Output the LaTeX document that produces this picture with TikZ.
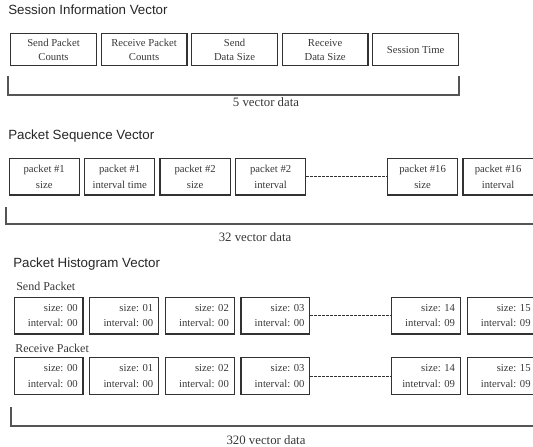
\documentclass[tikz,border=0pt]{standalone}
\usepackage{fontspec}
\setmainfont{Liberation Serif}
\newfontfamily\headfont{Liberation Sans}
\usepackage{xcolor}
\usepackage{tikz}
\usetikzlibrary{positioning}
\definecolor{inkgray}{RGB}{55,55,55}
\definecolor{framegray}{RGB}{50,50,50}
\definecolor{bracegray}{RGB}{85,85,85}

\begin{document}
\frenchspacing
\begin{tikzpicture}[
    x=0.75pt, y=-0.75pt,
    heading/.style={anchor=west, inner sep=0pt, text=black!85, font=\headfont\fontsize{10}{12}\selectfont},
    sublabel/.style={anchor=west, inner sep=0pt, text=inkgray, font=\fontsize{9}{11}\selectfont},
    cell/.style={rectangle, draw=framegray, line width=0.9pt, text=inkgray, inner sep=0pt, align=center},
    sesscell/.style={cell, minimum width=64.4pt, minimum height=23.9pt, font=\fontsize{8}{10.5}\selectfont},
    seqcell/.style={cell, minimum width=52.7pt, minimum height=27.6pt, font=\fontsize{8}{12}\selectfont},
    histcell/.style={cell, minimum height=27.6pt, inner xsep=4pt, text width=43.6pt, align=right, font=\fontsize{8}{11.6}\selectfont},
    brace/.style={draw=bracegray, line width=1pt},
    tally/.style={inner sep=0pt, text=inkgray, font=\fontsize{9.6}{11}\selectfont},
    dotline/.style={dash pattern=on 1.6pt off 1.4pt, line width=0.6pt, draw=black!80}
]
\useasboundingbox (0,0) rectangle (533,447);

% session information
\node[heading] (sesstitle) at (8,10) {Session Information Vector};

\node[sesscell, anchor=north west] (sendcnt) at (10,33) {Send Packet\\Counts};
\node[sesscell, right=2.6pt of sendcnt] (recvcnt) {Receive Packet\\Counts};
\node[sesscell, right=2.6pt of recvcnt] (sendsize) {Send\\Data Size};
\node[sesscell, right=2.6pt of sendsize] (recvsize) {Receive\\Data Size};
\node[sesscell, right=2.6pt of recvsize] (sesstime) {Session Time};

\draw[brace] (8,75.5) |- (459,95) -- (459,75.5);
\node[tally] (sessnum) at (266,102.5) {5 vector data};

% packet sequence
\node[heading] (seqtitle) at (8,136) {Packet Sequence Vector};

\node[seqcell, anchor=north west] (p1size) at (8.5,157.5) {packet \#1\\size};
\node[seqcell, right=3pt of p1size] (p1int) {packet \#1\\interval time};
\node[seqcell, right=3pt of p1int] (p2size) {packet \#2\\size};
\node[seqcell, right=3pt of p2size] (p2int) {packet \#2\\interval};
\node[seqcell, right=60.4pt of p2int] (p16size) {packet \#16\\size};
\node[seqcell, right=3pt of p16size] (p16int) {packet \#16\\interval};

\draw[dotline] (p2int) -- (p16size);

\draw[brace] (6,207) |- (533,224);
\node[tally] (seqnum) at (255,237.5) {32 vector data};

% packet histogram
\node[heading] (histtitle) at (13,264) {Packet Histogram Vector};

\node[sublabel] (sendlabel) at (16,286) {Send Packet};
\node[histcell, anchor=north west] (s00) at (13.6,296.6) {size: 00\\interval: 00};
\node[histcell, right=4.2pt of s00] (s01) {size: 01\\interval: 00};
\node[histcell, right=4.2pt of s01] (s02) {size: 02\\interval: 00};
\node[histcell, right=4.2pt of s02] (s03) {size: 03\\interval: 00};
\node[histcell, right=60.4pt of s03] (s14) {size: 14\\interval: 09};
\node[histcell, right=4.2pt of s14] (s15) {size: 15\\interval: 09};

\draw[dotline] (s03) -- (s14);

\node[sublabel] (recvlabel) at (15,348) {Receive Packet};
\node[histcell, anchor=north west] (r00) at (13.6,357) {size: 00\\interval: 00};
\node[histcell, right=4.2pt of r00] (r01) {size: 01\\interval: 00};
\node[histcell, right=4.2pt of r01] (r02) {size: 02\\interval: 00};
\node[histcell, right=4.2pt of r02] (r03) {size: 03\\interval: 00};
\node[histcell, right=60.4pt of r03] (r14) {size: 14\\intetrval: 09};
\node[histcell, right=4.2pt of r14] (r15) {size: 15\\interval: 09};

\draw[dotline] (r03) -- (r14);

\draw[brace] (11,407) |- (533,426);
\node[tally] (histnum) at (266,440) {320 vector data};
\end{tikzpicture}
\end{document}
